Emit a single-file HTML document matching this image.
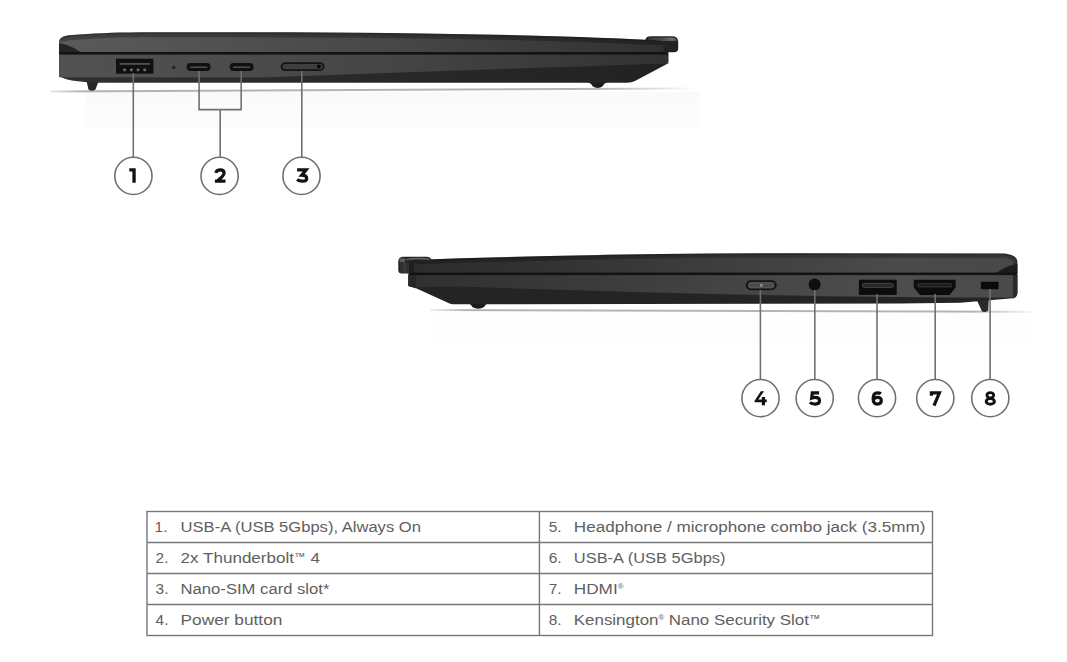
<!DOCTYPE html>
<html><head><meta charset="utf-8">
<style>
html,body{margin:0;padding:0;background:#fff;}
body{width:1067px;height:662px;overflow:hidden;position:relative;font-family:"Liberation Sans",sans-serif;}
svg{position:absolute;left:0;top:0;}
</style></head>
<body>
<svg width="1067" height="662" viewBox="0 0 1067 662">
<defs>
  <linearGradient id="lid1" x1="0" y1="0" x2="0" y2="1">
    <stop offset="0" stop-color="#2e2e2e"/>
    <stop offset="0.25" stop-color="#404040"/>
    <stop offset="1" stop-color="#4a4a4a"/>
  </linearGradient>
  <linearGradient id="lid2" x1="0" y1="0" x2="0" y2="1">
    <stop offset="0" stop-color="#262626"/>
    <stop offset="0.25" stop-color="#353535"/>
    <stop offset="1" stop-color="#3c3c3c"/>
  </linearGradient>
  <linearGradient id="sh1" x1="0" y1="0" x2="1" y2="0">
    <stop offset="0" stop-color="#e6e6e6"/>
    <stop offset="0.05" stop-color="#b4b4b4"/>
    <stop offset="0.85" stop-color="#b4b4b4"/>
    <stop offset="1" stop-color="#fafafa"/>
  </linearGradient>
  <linearGradient id="sh2" x1="0" y1="0" x2="1" y2="0">
    <stop offset="0" stop-color="#f2f2f2"/>
    <stop offset="0.06" stop-color="#b4b4b4"/>
    <stop offset="0.9" stop-color="#b4b4b4"/>
    <stop offset="1" stop-color="#fafafa"/>
  </linearGradient>
  <linearGradient id="lidh1" x1="59" y1="0" x2="668" y2="0" gradientUnits="userSpaceOnUse">
    <stop offset="0" stop-color="#5a5a5a"/>
    <stop offset="0.55" stop-color="#474747"/>
    <stop offset="1" stop-color="#303030"/>
  </linearGradient>
  <linearGradient id="base1" x1="59" y1="0" x2="668" y2="0" gradientUnits="userSpaceOnUse">
    <stop offset="0" stop-color="#525252"/>
    <stop offset="0.55" stop-color="#454545"/>
    <stop offset="1" stop-color="#323232"/>
  </linearGradient>
  <linearGradient id="bot1" x1="59" y1="0" x2="668" y2="0" gradientUnits="userSpaceOnUse">
    <stop offset="0" stop-color="#303030"/>
    <stop offset="1" stop-color="#222"/>
  </linearGradient>
  <linearGradient id="lidh2" x1="408" y1="0" x2="1017" y2="0" gradientUnits="userSpaceOnUse">
    <stop offset="0" stop-color="#2c2c2c"/>
    <stop offset="0.25" stop-color="#333"/>
    <stop offset="0.6" stop-color="#424242"/>
    <stop offset="0.8" stop-color="#4a4a4a"/>
    <stop offset="1" stop-color="#484848"/>
  </linearGradient>
  <linearGradient id="base2" x1="408" y1="0" x2="1017" y2="0" gradientUnits="userSpaceOnUse">
    <stop offset="0" stop-color="#303030"/>
    <stop offset="0.25" stop-color="#393939"/>
    <stop offset="0.6" stop-color="#474747"/>
    <stop offset="0.8" stop-color="#4d4d4d"/>
    <stop offset="1" stop-color="#4a4a4a"/>
  </linearGradient>
  <linearGradient id="hg1" x1="0" y1="0" x2="1" y2="0">
    <stop offset="0" stop-color="#3a3a3a"/>
    <stop offset="0.5" stop-color="#4a4a4a"/>
    <stop offset="0.85" stop-color="#6e6e6e"/>
    <stop offset="1" stop-color="#555"/>
  </linearGradient>
  <linearGradient id="hg2" x1="0" y1="0" x2="1" y2="0">
    <stop offset="0" stop-color="#555"/>
    <stop offset="0.15" stop-color="#6a6a6a"/>
    <stop offset="0.5" stop-color="#474747"/>
    <stop offset="1" stop-color="#3a3a3a"/>
  </linearGradient>
  <linearGradient id="glow" x1="0" y1="0" x2="0" y2="1">
    <stop offset="0" stop-color="#fafafa"/>
    <stop offset="1" stop-color="#fdfdfd"/>
  </linearGradient>
</defs>

<!-- ============ LAPTOP 1 ============ -->
<rect x="85" y="92" width="615" height="36" fill="url(#glow)"/>
<rect x="432" y="313" width="598" height="30" fill="#fefefe"/>
<g id="lap1">
  <path d="M51,90.4 L691,87.5 L691,89.5 L51,92.4 Z" fill="url(#sh1)"/>
  <!-- feet -->
  <path d="M86.5,81 L98.7,81 L95.5,89.5 Q91.8,92.2 88.5,89.5 Z" fill="#282828"/>
  <path d="M586.5,82 L608.5,82 Q604,82.8 603,86 Q597.7,90.2 592.3,86 Q591.3,82.8 586.5,82 Z" fill="#1c1c1c"/>
  <!-- base -->
  <path d="M59,54 L668.3,54 L668.3,61.5 Q668.3,63.3 666,64.5 L635,81 Q632,82.7 627,82.7 L96,82.7 Q72,81.8 63,78 Q59,76.5 59,73 Z" fill="url(#bot1)"/>
  <path d="M59,54 L668.3,54 L668.3,63.5 Q450,70.5 260,77.5 L59,77.3 Z" fill="url(#base1)"/>
  <!-- lid -->
  <path id="lid1p" d="M59,43 C59,37.5 63,35.6 72,35 C92,33.5 112,32.6 140,32.3 C350,31.8 520,33.5 645,39.8 L661,40.2 Q665,40.6 665,44 L665,53 L59,53 Z" fill="url(#lidh1)"/>
  <clipPath id="lc1"><path d="M59,43 C59,37.5 63,35.6 72,35 C92,33.5 112,32.6 140,32.3 C350,31.8 520,33.5 645,39.8 L661,40.2 Q665,40.6 665,44 L665,53 L59,53 Z"/></clipPath>
  <g clip-path="url(#lc1)">
    <path d="M59,43 C59,37.5 63,35.6 72,35 C92,33.5 112,32.6 140,32.3 C350,31.8 520,33.5 645,39.8 L670,40.4" fill="none" stroke="#000" stroke-opacity="0.28" stroke-width="10"/>
    <path d="M59,43 C59,37.5 63,35.6 72,35 C92,33.5 112,32.6 140,32.3 C350,31.8 520,33.5 645,39.8 L670,40.4" fill="none" stroke="#000" stroke-opacity="0.15" stroke-width="4"/>
  </g>
  <path d="M59,43 Q68,44.5 75,48.5 L81,52.5 L59,52.5 Z" fill="#242424"/>
  <path d="M59,40.5 Q66,41.5 70,43.5 L59,43.5 Z" fill="#666" opacity="0.5"/>
  <!-- split line -->
  <rect x="59" y="52" width="609.3" height="2.6" fill="#131313"/>
  <!-- hinge -->
  <path d="M645.3,40.5 Q645.5,36.3 651,36.3 L672,36.3 Q678.2,36.3 678.2,42 L678.2,48.5 Q678.2,52.3 674,52.3 L663.5,52.3 L663.5,40.4 Z" fill="#222"/>
  <path d="M647.2,39.5 Q648.5,37.4 652,37.4 L672,37.4 Q676.6,37.5 676.8,40.8 L663.5,41 Z" fill="url(#hg1)"/>
  <!-- ports -->
  <rect x="116" y="58.7" width="37.4" height="15" fill="#101010"/>
  <rect x="119.5" y="63" width="30.5" height="1.8" fill="#505050"/>
  <rect x="123.3" y="68.6" width="2.6" height="2.6" fill="#6e6e6e"/><rect x="130" y="68.6" width="2.6" height="2.6" fill="#6e6e6e"/>
  <rect x="136.7" y="68.6" width="2.6" height="2.6" fill="#6e6e6e"/><rect x="143.4" y="68.6" width="2.6" height="2.6" fill="#6e6e6e"/>
  <circle cx="173.7" cy="67.4" r="3" fill="#525252"/><circle cx="173.7" cy="67.4" r="1.8" fill="#1e1e1e"/><circle cx="173.7" cy="67.4" r="0.7" fill="#3a3a3a"/>
  <rect x="186.7" y="63.1" width="23.9" height="7.9" rx="3.9" fill="#101010"/>
  <rect x="190" y="66.6" width="17.3" height="1.1" fill="#6a6a6a"/>
  <rect x="229.7" y="63.1" width="23.9" height="7.9" rx="3.9" fill="#101010"/>
  <rect x="233" y="66.6" width="17.3" height="1.1" fill="#6a6a6a"/>
  <rect x="280.7" y="62.3" width="43.8" height="8.7" rx="4.3" fill="#151515"/>
  <rect x="282.6" y="64" width="40" height="5.3" rx="2.6" fill="#3e3e3e"/>
  <circle cx="318.8" cy="66.6" r="2" fill="#0a0a0a"/>
</g>

<!-- ============ LAPTOP 2 ============ -->
<g id="lap2">
  <path d="M430,309.1 L1033,310.9 L1033,312.9 L430,311.1 Z" fill="url(#sh2)"/>
  <path d="M467,303 L489.5,303 Q485,304 484.3,307 Q478.2,310.6 472.2,307 Q471.5,304 467,303 Z" fill="#1a1a1a"/>
  <path d="M976.8,300 L988.8,300 L988.3,310.5 Q986,312.8 982,311.5 Z" fill="#2a2a2a"/>
  <!-- base -->
  <path d="M408.4,275 L1017.4,275 L1017.4,293 Q1017.2,298.2 1010,298.5 L960,302.8 L900,303.6 L480,304.2 L453,304.2 Q451,304.2 449,303.2 L416,288.3 L408.4,286 Z" fill="#242424"/>
  <path d="M408.4,275 L1013.3,275 L1013.3,297.5 Q800,298 460,286.6 L416,287 L408.4,286 Z" fill="url(#base2)"/>
  <path d="M408.4,275 L416,275 L416,288.3 L408.4,286 Z" fill="#262626"/>
  <path d="M1013.3,275 L1017.4,275 L1017.4,293 Q1017.2,298.2 1012,298.4 L1013.3,296.5 Z" fill="#2a2a2a"/>
  <!-- lid -->
  <path d="M412.3,260 Q620,253 800,253.3 L1003,253.5 Q1016.5,254.5 1017.3,261 L1017.4,273 L412.3,273 Z" fill="url(#lidh2)"/>
  <clipPath id="lc2"><path d="M412.3,260 Q620,253 800,253.3 L1003,253.5 Q1016.5,254.5 1017.3,261 L1017.4,273 L412.3,273 Z"/></clipPath>
  <g clip-path="url(#lc2)">
    <path d="M405,260.2 L412.3,260 Q620,253 800,253.3 L1003,253.5 Q1016.5,254.5 1017.3,261 L1017.4,273" fill="none" stroke="#000" stroke-opacity="0.25" stroke-width="9"/>
    <path d="M405,260.2 L412.3,260 Q620,253 800,253.3 L1003,253.5 Q1016.5,254.5 1017.3,261 L1017.4,273" fill="none" stroke="#000" stroke-opacity="0.15" stroke-width="3.5"/>
  </g>
  <path d="M996.3,273 Q1005,266 1017.4,263.7 L1017.4,273 Z" fill="#1c1c1c"/>
  <rect x="408.4" y="272.6" width="609" height="2.5" fill="#121212"/>
  <!-- hinge -->
  <path d="M398.3,261.5 Q398.3,256.8 403.5,256.8 L426,256.8 Q431.4,256.8 431.4,260.4 L431.4,261.5 L412.3,261.5 L409.7,263 L409.7,273.6 L402,273.6 Q398.3,273.6 398.3,270 Z" fill="#232323"/>
  <path d="M400,262.2 L409.5,262.2 L409.5,273 L400,273 Z" fill="#303030"/>
  <path d="M403,262.2 L406,262.2 L406,273 L403,273 Z" fill="#3a3a3a"/>
  <path d="M406,259.6 Q418,257.6 429.5,259.3" fill="none" stroke="#7a7a7a" stroke-width="1.3" opacity="0.8"/>
  <rect x="399.6" y="258.2" width="5.5" height="3.8" rx="1" fill="#6e6e6e" opacity="0.8"/>
  <rect x="409" y="261.5" width="4.5" height="11.5" fill="#1e1e1e"/>
  <!-- ports -->
  <rect x="745.7" y="280.2" width="30.9" height="10.1" rx="5" fill="#141414"/>
  <rect x="747.9" y="282" width="26.6" height="6.5" rx="3.2" fill="#4c4c4c"/>
  <rect x="748.9" y="283" width="24.6" height="4.5" rx="2.2" fill="none" stroke="#5a5a5a" stroke-width="0.8"/>
  <rect x="760" y="284" width="2.6" height="2.6" fill="#8c8c8c"/>
  <circle cx="814.6" cy="284.4" r="6" fill="#0e0e0e"/>
  <rect x="858.9" y="279.7" width="37.8" height="15.2" fill="#0c0c0c"/>
  <rect x="862.3" y="283.4" width="31" height="4" rx="1.6" fill="#262626" stroke="#474747" stroke-width="0.9"/>
  <path d="M913.8,279.7 L955.6,279.7 L955.6,287.5 L949.6,294.9 L920,294.9 L913.8,287.5 Z" fill="#0c0c0c"/>
  <rect x="917.5" y="283.6" width="34.5" height="3.4" rx="1.2" fill="#1e1e1e" stroke="#3a3a3a" stroke-width="0.8"/>
  <rect x="980.9" y="281.7" width="17.7" height="7.6" rx="0.8" fill="#0a0a0a"/>
</g>

<!-- ============ LEADERS & CALLOUTS ============ -->
<g stroke="#707070" stroke-width="1.6" fill="none">
  <line x1="133.3" y1="73" x2="133.3" y2="157.3"/>
  <polyline points="199.1,71 199.1,109.6 241.2,109.6 241.2,71"/>
  <line x1="220.2" y1="109.6" x2="220.2" y2="157.3"/>
  <line x1="301.8" y1="71" x2="301.8" y2="157.3"/>
  <circle cx="133.4" cy="175.9" r="18.6" fill="#fff"/>
  <circle cx="219.6" cy="175.9" r="18.6" fill="#fff"/>
  <circle cx="301.5" cy="175.9" r="18.6" fill="#fff"/>

  <line x1="760.4" y1="290" x2="760.4" y2="379.5"/>
  <line x1="814.8" y1="290" x2="814.8" y2="379.5"/>
  <line x1="877" y1="294" x2="877" y2="379.5"/>
  <line x1="935.2" y1="294" x2="935.2" y2="379.5"/>
  <line x1="990.1" y1="289" x2="990.1" y2="379.5"/>
  <circle cx="760.5" cy="398.1" r="18.6" fill="#fff"/>
  <circle cx="814.7" cy="398.1" r="18.6" fill="#fff"/>
  <circle cx="877" cy="398.1" r="18.6" fill="#fff"/>
  <circle cx="935.3" cy="398.1" r="18.6" fill="#fff"/>
  <circle cx="990.3" cy="398.1" r="18.6" fill="#fff"/>
</g>
<g id="digits">
  <g transform="translate(129.30,168.30)"><path d="M0,0 L6.4,0 L6.4,14.5 L3.1,14.5 L3.1,3.2 L0,3.2 Z" fill="#111"/></g>
  <g transform="translate(214.50,168.30)"><path d="M1.3,4.6 C1.9,2.6 3.6,1.6 5.8,1.6 C8.3,1.6 9.6,3 9.6,4.8 C9.6,6.1 9,7.1 7.7,8.3 L2.6,12.9 M0.4,12.9 L11,12.9" fill="none" stroke="#111" stroke-width="3.2" stroke-linejoin="round"/></g>
  <g transform="translate(296.50,168.30)"><path d="M0.6,1.6 L9.6,1.6 L5.2,6.9 C8.6,6.9 10.2,8.2 10.2,10.1 C10.2,12.2 8.3,12.9 5.8,12.9 C3.6,12.9 1.9,12.4 0.6,11.2" fill="none" stroke="#111" stroke-width="3.2" stroke-linejoin="miter"/></g>
  <g transform="translate(754.20,391.20)"><path d="M6.6,0 L9.9,0 L4.1,8.4 L12.6,8.4 L12.6,11.1 L1.3,11.1 Q-0.3,11.1 0.5,9.6 Z" fill="#111"/><rect x="7.6" y="5.8" width="3.2" height="8.3" fill="#111"/></g>
  <g transform="translate(809.30,391.20)"><path d="M9.8,1.6 L3,1.6 L2.4,6.7 C3.4,6.3 4.6,6.1 5.8,6.1 C8.8,6.1 10.2,7.6 10.2,9.6 C10.2,11.8 8.4,12.9 5.8,12.9 C3.6,12.9 1.9,12.4 0.6,11.2" fill="none" stroke="#111" stroke-width="3.2" stroke-linejoin="miter"/></g>
  <g transform="translate(871.50,391.20)"><path d="M9.4,2.5 C8.5,1.9 7.3,1.6 6,1.6 C3.1,1.6 1.6,4 1.6,7.4 C1.6,11 3.2,12.9 5.9,12.9 C8.4,12.9 9.8,11.5 9.8,9.4 C9.8,7.3 8.4,6.1 6.1,6.1 C3.8,6.1 1.9,7.3 1.6,9.2" fill="none" stroke="#111" stroke-width="3.2"/></g>
  <g transform="translate(929.80,391.20)"><path d="M1.6,4.6 L1.6,1.6 L9.6,1.6 L4.2,14.5" fill="none" stroke="#111" stroke-width="3.2" stroke-linejoin="miter"/></g>
  <g transform="translate(984.80,391.20)"><ellipse cx="5.5" cy="4.1" rx="3.4" ry="2.6" fill="none" stroke="#111" stroke-width="2.8"/><ellipse cx="5.5" cy="10.2" rx="4.1" ry="2.8" fill="none" stroke="#111" stroke-width="3"/></g>
</g>

<!-- ============ TABLE ============ -->
<g stroke="#777" stroke-width="1.4" fill="none">
  <rect x="147" y="511.5" width="785.5" height="124"/>
  <line x1="147" y1="542.5" x2="932.5" y2="542.5"/>
  <line x1="147" y1="573.5" x2="932.5" y2="573.5"/>
  <line x1="147" y1="604.5" x2="932.5" y2="604.5"/>
  <line x1="539.4" y1="511.5" x2="539.4" y2="635.5"/>
</g>
<g font-family="Liberation Sans" font-size="15.4" fill="#606060">
  <text x="154.6" y="531.6">1.</text><text x="180.6" y="531.6" textLength="240.3" lengthAdjust="spacingAndGlyphs">USB-A (USB 5Gbps), Always On</text>
  <text x="155.6" y="562.6">2.</text><text x="180.6" y="562.6" textLength="139.3" lengthAdjust="spacingAndGlyphs">2x Thunderbolt<tspan font-size="10.5" dy="-2.6">™</tspan><tspan dy="2.6"> 4</tspan></text>
  <text x="155.6" y="593.6">3.</text><text x="180.6" y="593.6" textLength="148.8" lengthAdjust="spacingAndGlyphs">Nano-SIM card slot*</text>
  <text x="155.6" y="624.6">4.</text><text x="180.6" y="624.6" textLength="101.8" lengthAdjust="spacingAndGlyphs">Power button</text>
  <text x="548.8" y="531.6">5.</text><text x="573.8" y="531.6" textLength="351.7" lengthAdjust="spacingAndGlyphs">Headphone / microphone combo jack (3.5mm)</text>
  <text x="548.8" y="562.6">6.</text><text x="573.8" y="562.6" textLength="151.7" lengthAdjust="spacingAndGlyphs">USB-A (USB 5Gbps)</text>
  <text x="548.8" y="593.6">7.</text><text x="573.8" y="593.6" textLength="49.7" lengthAdjust="spacingAndGlyphs">HDMI<tspan font-size="7" dy="-5">®</tspan></text>
  <text x="548.8" y="624.6">8.</text><text x="573.8" y="624.6" textLength="246.7" lengthAdjust="spacingAndGlyphs">Kensington<tspan font-size="7" dy="-5">®</tspan><tspan dy="5"> Nano Security Slot</tspan><tspan font-size="10.5" dy="-2.6">™</tspan></text>
</g>
</svg>
</body></html>
